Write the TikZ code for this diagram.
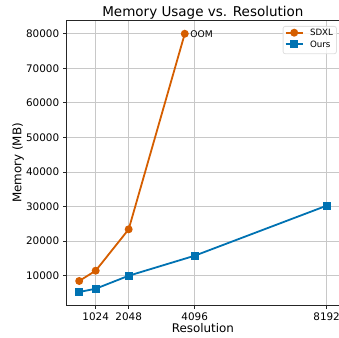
\documentclass[tikz,border=0pt]{standalone}
\usepackage{fontspec}
\setmainfont{DejaVu Sans}
\usetikzlibrary{calc, positioning}
\definecolor{sdxl_orange}{HTML}{D55E00}
\definecolor{ours_blue}{HTML}{0072B2}
\definecolor{grid_gray}{HTML}{C8C8C8}
\tikzset{
    grid_line/.style={draw=grid_gray, line width=0.9pt},
    spine/.style={draw=black!85, line width=0.85pt},
    tick_mark/.style={draw=black!85, line width=0.85pt},
    tick_label/.style={inner sep=0pt, font=\fontsize{10.4}{12}\selectfont},
    axis_label/.style={inner sep=0pt, font=\fontsize{11.9}{14}\selectfont},
    title_text/.style={inner sep=0pt, font=\fontsize{13.5}{16}\selectfont},
    sdxl_line/.style={draw=sdxl_orange, line width=1.8pt, line join=round},
    ours_line/.style={draw=ours_blue, line width=1.8pt, line join=round},
    sdxl_mark/.style={circle, fill=sdxl_orange, minimum size=8pt, inner sep=0pt},
    ours_mark/.style={rectangle, fill=ours_blue, minimum size=7.8pt, inner sep=0pt},
    legend_box/.style={draw=black!12, fill=white, fill opacity=0.8, rounded corners=2pt, line width=0.8pt},
    legend_text/.style={inner sep=0pt, anchor=west, font=\fontsize{8.7}{10}\selectfont},
    note_text/.style={inner sep=0pt, anchor=west, font=\fontsize{9.2}{11}\selectfont},
}

\begin{document}
\begin{tikzpicture}[x=1pt, y=1pt]
      \useasboundingbox (0,0) rectangle (339,-337);

      %%%%%%%%%%%%%
      % AXES      %
      %%%%%%%%%%%%%
      \begin{scope}[shift={(62.7pt,-310.3pt)}, x=32.99pt, y=3.457pt]
      \coordinate (ax_sw) at (0.125,1.53);
      \coordinate (ax_ne) at (8.375,83.74);

      \foreach \x in {1,2,4,8}
            \draw [grid_line] (\x,1.53) -- (\x,83.74);
      \foreach \y in {10,20,...,80}
            \draw [grid_line] (0.125,\y) -- (8.375,\y);

      \draw [spine] (ax_ne) -- (ax_sw |- ax_ne) -- (ax_sw) -- (ax_sw -| ax_ne);

      \foreach \x/\lab in {1/1024, 2/2048, 4/4096, 8/8192}
            \draw [tick_mark] (\x,1.53) -- ++(0,-3.6pt)
                  node (xtick_\lab) [tick_label, anchor=north, yshift=-3.6pt] {\lab};
      \foreach \y in {10,20,...,80}
            \draw [tick_mark] (0.125,\y) -- ++(-3.6pt,0)
                  node (ytick_\y) [tick_label, anchor=east, xshift=-3.6pt] {\y000};

      %%%%%%%%%%%%%
      % SDXL      %
      %%%%%%%%%%%%%
      \foreach \n/\x/\y in {512/0.5/8.48, 1024/1/11.46, 2048/2/23.43, oom/3.7/80}
            \coordinate (sdxl_\n) at (\x,\y);
      \draw [sdxl_line] (sdxl_512) -- (sdxl_1024) -- (sdxl_2048) -- (sdxl_oom);
      \foreach \n in {512,1024,2048,oom}
            \node (sdxl_mark_\n) [sdxl_mark] at (sdxl_\n) {};
      \node (oom_note) [note_text, right = 5.5pt of sdxl_oom, anchor=west] {OOM};

      %%%%%%%%%%%%%
      % OURS      %
      %%%%%%%%%%%%%
      \foreach \n/\x/\y in {512/0.5/5.29, 1024/1/6.25, 2048/2/10.0, 4096/4/15.79, 8192/8/30.26}
            \coordinate (ours_\n) at (\x,\y);
      \draw [ours_line] (ours_512) -- (ours_1024) -- (ours_2048) -- (ours_4096) -- (ours_8192);
      \foreach \n in {512,1024,2048,4096,8192}
            \node (ours_mark_\n) [ours_mark] at (ours_\n) {};
      \end{scope}

      %%%%%%%%%%%%%
      % LABELS    %
      %%%%%%%%%%%%%
      \node (title) [title_text, anchor=base] at (202.9,-16.5) {Memory Usage vs. Resolution};
      \node (x_label) [axis_label, anchor=base] at (202.9,-332.3) {Resolution};
      \node (y_label) [axis_label, rotate=90] at (18,-162.9) {Memory (MB)};

      %%%%%%%%%%%%%
      % LEGEND    %
      %%%%%%%%%%%%%
      \node (legend) [legend_box, minimum width=53.3pt, minimum height=27.3pt, inner sep=0pt,
            anchor=north west] at (282.7,-26) {};
      \coordinate (leg_sdxl_a) at (285.7,-32.7);
      \coordinate (leg_sdxl_b) at (302.7,-32.7);
      \coordinate (leg_ours_a) at (285.7,-44.3);
      \coordinate (leg_ours_b) at (302.7,-44.3);
      \draw [sdxl_line] (leg_sdxl_a) -- (leg_sdxl_b);
      \node (leg_sdxl_mark) [sdxl_mark] at ($(leg_sdxl_a)!0.5!(leg_sdxl_b)$) {};
      \draw [ours_line] (leg_ours_a) -- (leg_ours_b);
      \node (leg_ours_mark) [ours_mark] at ($(leg_ours_a)!0.5!(leg_ours_b)$) {};
      \node (leg_sdxl_text) [legend_text] at (309.8,-32.7) {SDXL};
      \node (leg_ours_text) [legend_text] at (309.8,-44.3) {Ours};
\end{tikzpicture}
\end{document}
